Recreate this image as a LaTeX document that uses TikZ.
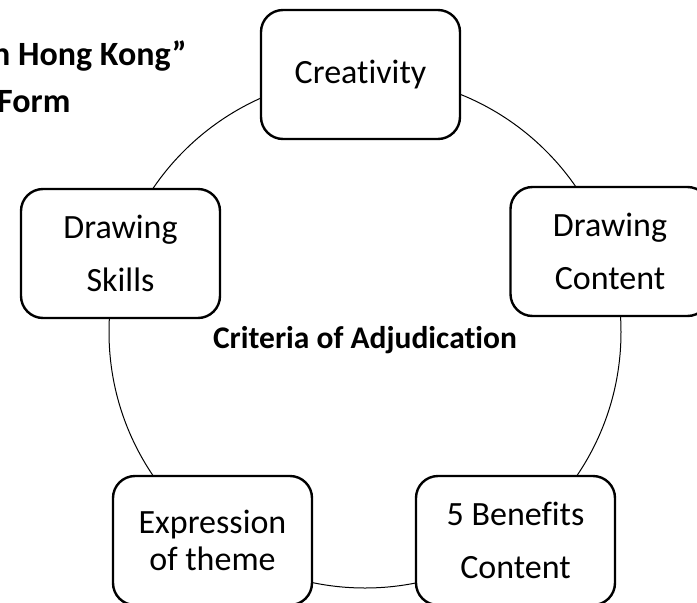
\documentclass[tikz,border=0pt]{standalone}
\usepackage{fontspec}
\setmainfont{Carlito}[Ligatures={NoCommon,NoContextual}]
\begin{document}
\begin{tikzpicture}[x=1pt,y=-1pt,
  critbox/.style={draw=black, line width=2.4pt, fill=white, rounded corners=22pt,
    minimum width=199pt, minimum height=129pt, inner sep=0pt, align=center,
    font=\fontsize{34}{53}\selectfont},
  ringstyle/.style={draw=black, line width=1pt, circle, minimum size=512pt, inner sep=0pt},
  titlestyle/.style={inner sep=0pt, font=\fontsize{34}{47}\bfseries\selectfont}]
\useasboundingbox (0,0) rectangle (697,603);
\fill[white] (0,0) rectangle (697,603);
\node[ringstyle] (ring) at (365,332) {};
\node[titlestyle, anchor=base west] (title1) at (-8,65) {n Hong Kong”};
\node[titlestyle, anchor=base west] (title2) at (-3,112) {Form};
\node[inner sep=0pt, anchor=base, font=\fontsize{31.5}{36}\bfseries\selectfont] (crit) at (365,348) {Criteria of Adjudication};
\node[critbox] (creat) at (360.5,74.5) {Creativity};
\node[critbox] (dcont) at (610,251.5) {Drawing\\Content};
\node[critbox] (dskill) at (120.5,253.5) {Drawing\\Skills};
\node[critbox, font=\fontsize{34}{37}\selectfont] (expr) at (212.5,540.5) {Expression\\of theme};
\node[critbox] (benef) at (515.5,540.5) {5 Benefits\\Content};
\end{tikzpicture}
\end{document}
